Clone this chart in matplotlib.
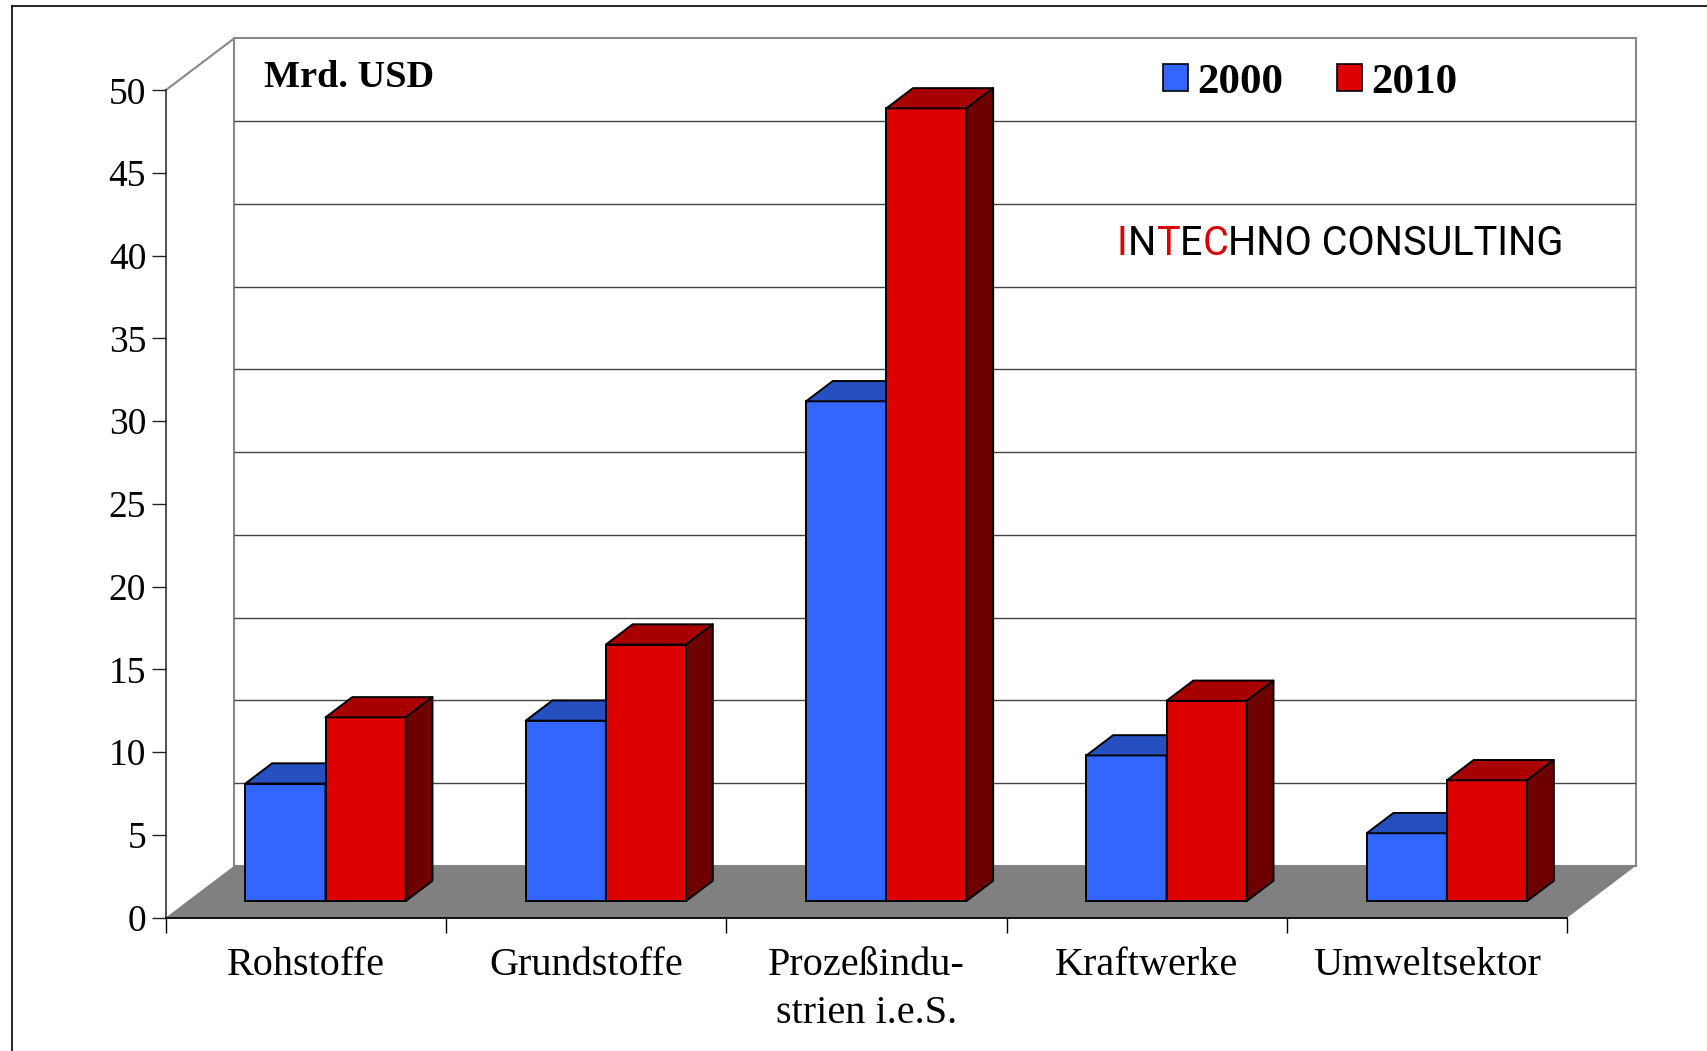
import matplotlib
matplotlib.use('Agg')
import matplotlib.pyplot as plt
import numpy as np
from matplotlib.patches import Polygon, Rectangle, Patch
from matplotlib.lines import Line2D
from matplotlib.font_manager import FontProperties, findfont, get_font

# Data (Mrd. USD)
categories = ['Rohstoffe', 'Grundstoffe', 'Prozeßindu-\nstrien i.e.S.', 'Kraftwerke', 'Umweltsektor']
years = ['2000', '2010']
values_2000 = [7.1, 10.9, 30.2, 8.8, 4.1]
values_2010 = [11.1, 15.5, 47.9, 12.1, 7.3]
y_ticks = [0, 5, 10, 15, 20, 25, 30, 35, 40, 45, 50]

plt.rcParams['font.family'] = ['Liberation Serif', 'DejaVu Serif']

W, H = 1708, 1051
DPI = 100
fig = plt.figure(figsize=(W / DPI, H / DPI), dpi=DPI)

# fake 3D: depth of the box in data units, bar depth as fraction of it
DX, DY = 0.245, 3.14
Z0, Z1 = 0.32, 0.71
BW = 0.286
SHIFT = -0.008

def fx(p):
    return p / W

def fy(p):
    return 1 - p / H

ax = fig.add_axes([fx(165.6), fy(917.7), fx(1636) - fx(165.6), fy(38.3) - fy(917.7)])
ax.set_xlim(-0.5, 4.5 + DX)
ax.set_ylim(0, 50 + DY)
ax.patch.set_visible(False)

# back wall + gridlines
ax.add_patch(Rectangle((-0.5 + DX, DY), 5, 50, fc='white', ec='#888888', lw=1.5, zorder=0.3, clip_on=False))
ax.hlines([v + DY for v in y_ticks[1:-1]], -0.5 + DX, 4.5 + DX, colors='#444444', lw=1.0, zorder=0.4)
# side wall top edge
ax.plot([-0.5, -0.5 + DX], [50, 50 + DY], color='#888888', lw=1.5, clip_on=False, zorder=0.4)
# floor
ax.add_patch(Polygon([(-0.5, 0), (4.5, 0), (4.5 + DX, DY), (-0.5 + DX, DY)],
                     closed=True, fc='#808080', ec='none', zorder=0.5, clip_on=False))

x = np.arange(len(categories))
series = [
    (values_2000, -BW + SHIFT, ('#3366FF', '#2650C0', '#1A3380'), 2),
    (values_2010, SHIFT, ('#DD0000', '#A80000', '#6E0000'), 3),
]
for vals, off, (c_front, c_top, c_side), z in series:
    lefts = x + off
    ax.bar(lefts + Z0 * DX, vals, width=BW, bottom=Z0 * DY, align='edge',
           color=c_front, edgecolor='black', linewidth=1.4, zorder=z)
    for l, v in zip(lefts, vals):
        top = [(l + Z0 * DX, v + Z0 * DY), (l + BW + Z0 * DX, v + Z0 * DY),
               (l + BW + Z1 * DX, v + Z1 * DY), (l + Z1 * DX, v + Z1 * DY)]
        side = [(l + BW + Z0 * DX, v + Z0 * DY), (l + BW + Z1 * DX, v + Z1 * DY),
                (l + BW + Z1 * DX, Z1 * DY), (l + BW + Z0 * DX, Z0 * DY)]
        ax.add_patch(Polygon(top, closed=True, fc=c_top, ec='black', lw=1.4, zorder=z, joinstyle='round'))
        ax.add_patch(Polygon(side, closed=True, fc=c_side, ec='black', lw=1.4, zorder=z, joinstyle='round'))

# axes
for s in ['top', 'right']:
    ax.spines[s].set_visible(False)
ax.spines['left'].set_bounds(0, 50)
ax.spines['left'].set_color('#222222')
ax.spines['left'].set_linewidth(1.1)
ax.spines['bottom'].set_bounds(-0.5, 4.5)
ax.spines['bottom'].set_color('black')
ax.spines['bottom'].set_linewidth(1.3)

ax.set_yticks(y_ticks)
ax.tick_params(axis='y', direction='out', length=10, width=1.0, pad=4,
               labelsize=27, color='#222222', labelcolor='black')
ax.set_xticks(np.arange(-0.5, 5, 1))
ax.set_xticklabels([])
ax.set_xticks(x, minor=True)
ax.set_xticklabels(categories, minor=True, linespacing=1.38)
ax.tick_params(axis='x', which='major', direction='out', length=11, width=1.0, color='black')
ax.tick_params(axis='x', which='minor', length=0, pad=21, labelsize=29)

# texts
fig.text(fx(263.6), fy(86.7), 'Mrd. USD', fontsize=27.5, fontweight='bold', va='baseline')

handles = [Patch(fc='#3366FF', ec='black', lw=1.2), Patch(fc='#DD0000', ec='black', lw=1.2)]
fig.legend(handles, years, loc='center left', bbox_to_anchor=(fx(1163), fy(83)), ncol=2,
           frameon=False, prop={'weight': 'bold', 'size': 31}, handlelength=0.58,
           handleheight=0.58, handletextpad=0.22, columnspacing=1.25,
           borderpad=0, borderaxespad=0)

# logo text, some letters red: pieces placed one after another by glyph advance
logo_parts = [('I', '#DD0000'), ('N', 'black'), ('T', '#DD0000'), ('E', 'black'),
              ('C', '#DD0000'), ('HNO CONSULTING', 'black')]
logo_size = 28.5
logo_fp = FontProperties(family='Roboto', size=logo_size)
ft = get_font(findfont(logo_fp))
ft.set_size(logo_size, DPI)

def advance(s):
    return sum(ft.load_char(ord(c)).linearHoriAdvance / 65536 for c in s)

pen = 1117.0
for s, c in logo_parts:
    fig.text(fx(pen), fy(255), s, fontproperties=logo_fp, color=c, va='baseline')
    pen += advance(s)

# outer frame (top and left edges)
fig.add_artist(Line2D([fx(12), fx(12)], [0, fy(6)], transform=fig.transFigure, color='black', lw=1.2))
fig.add_artist(Line2D([fx(12), 1], [fy(6), fy(6)], transform=fig.transFigure, color='black', lw=1.2))

fig.savefig('out.png', dpi=DPI)
